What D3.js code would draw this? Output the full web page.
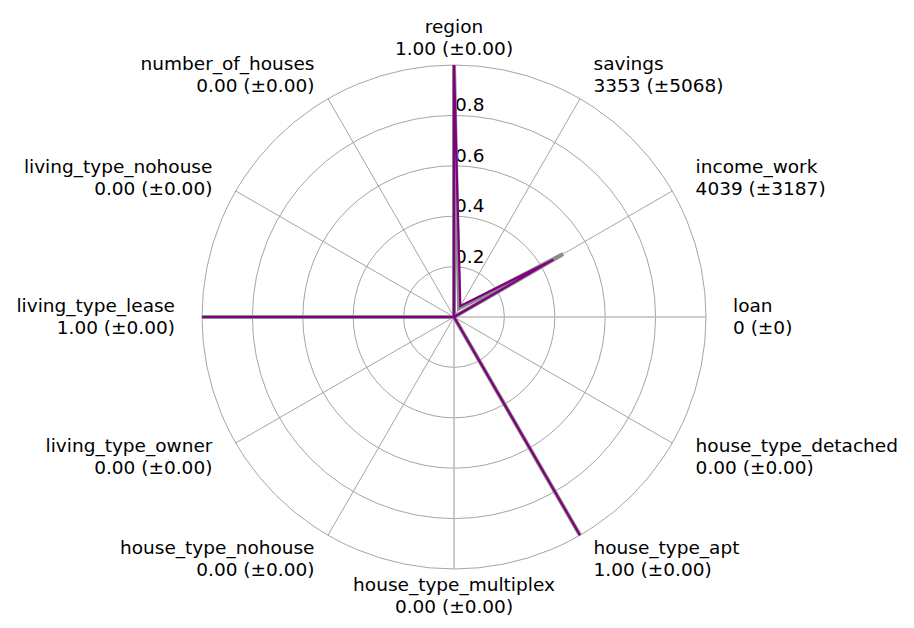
<!DOCTYPE html>
<html>
<head>
<meta charset="utf-8">
<script src="https://cdn.jsdelivr.net/npm/d3@7"></script>
<style>
  body { margin: 0; background: #fff; }
  text { font-family: "DejaVu Sans", sans-serif; fill: #000; }
</style>
</head>
<body>
<script>
const features = ["region", "savings", "income_work", "loan", "house_type_detached", "house_type_apt",
                  "house_type_multiplex", "house_type_nohouse", "living_type_owner", "living_type_lease",
                  "living_type_nohouse", "number_of_houses"];
const valueLabels = ["1.00 (±0.00)", "3353 (±5068)", "4039 (±3187)", "0 (±0)", "0.00 (±0.00)", "1.00 (±0.00)",
                     "0.00 (±0.00)", "0.00 (±0.00)", "0.00 (±0.00)", "1.00 (±0.00)", "0.00 (±0.00)", "0.00 (±0.00)"];
// scaled values of the instance (purple) and of the reference (grey)
const instance = [1.0, 0.05, 0.455, 0, 0, 1.0, 0, 0, 0, 1.0, 0, 0];
const reference = [1.0, 0.04, 0.50, 0, 0, 1.0, 0, 0, 0, 1.0, 0, 0];
const rTicks = [0.2, 0.4, 0.6, 0.8, 1.0];
const rTickLabels = ["0.2", "0.4", "0.6", "0.8"];

const width = 914, height = 628;
const cx = 454, cy = 317, R = 252;
const fontSize = "18.5px";

const svg = d3.select("body").append("svg")
    .attr("width", width)
    .attr("height", height);

const g = svg.append("g").attr("transform", "translate(" + cx + "," + cy + ")");

const r = d3.scaleLinear().domain([0, 1]).range([0, R]);
const angle = d3.scalePoint().domain(features).range([0, 2 * Math.PI * (features.length - 1) / features.length]);

// rings
g.selectAll("circle.ring")
  .data(rTicks)
  .enter().append("circle")
    .attr("class", "ring")
    .attr("r", d => r(d))
    .attr("fill", "none")
    .attr("stroke", "#9a9a9a")
    .attr("stroke-width", 0.9);

// spokes
g.selectAll("line.spoke")
  .data(features)
  .enter().append("line")
    .attr("class", "spoke")
    .attr("x1", 0).attr("y1", 0)
    .attr("x2", d => r(1) * Math.sin(angle(d)))
    .attr("y2", d => -r(1) * Math.cos(angle(d)))
    .attr("stroke", (d, i) => i % 3 === 0 ? "#bdbdbd" : "#9a9a9a")
    .attr("stroke-width", (d, i) => i % 3 === 0 ? 1.6 : 0.9);

// radial tick labels
g.selectAll("text.rtick")
  .data(rTickLabels)
  .enter().append("text")
    .attr("class", "rtick")
    .attr("x", 1)
    .attr("y", d => -r(+d) - 4)
    .style("font-size", fontSize)
    .text(d => d);

const radial = d3.lineRadial()
    .angle((d, i) => angle(features[i]))
    .radius(d => r(d))
    .curve(d3.curveLinearClosed);

g.append("path")
    .datum(reference)
    .attr("d", radial)
    .attr("fill", "none")
    .attr("stroke", "#8c8c8c")
    .attr("stroke-width", 4)
    .attr("stroke-linejoin", "miter");

g.append("path")
    .datum(instance)
    .attr("d", radial)
    .attr("fill", "none")
    .attr("stroke", "#800080")
    .attr("stroke-width", 2.2)
    .attr("stroke-linejoin", "miter");

// feature labels
const labelR = 279;
const labels = g.selectAll("g.flabel")
  .data(features)
  .enter().append("g")
    .attr("class", "flabel")
    .attr("transform", d => "translate(" + (labelR * Math.sin(angle(d))) + "," + (-labelR * Math.cos(angle(d))) + ")");

function anchorFor(d) {
  const s = Math.sin(angle(d));
  if (Math.abs(s) < 1e-6) return "middle";
  return s > 0 ? "start" : "end";
}

labels.append("text")
    .attr("text-anchor", anchorFor)
    .attr("y", -5)
    .style("font-size", fontSize)
    .text(d => d);

labels.append("text")
    .attr("text-anchor", anchorFor)
    .attr("y", 17)
    .style("font-size", fontSize)
    .text((d, i) => valueLabels[i]);
</script>
</body>
</html>
